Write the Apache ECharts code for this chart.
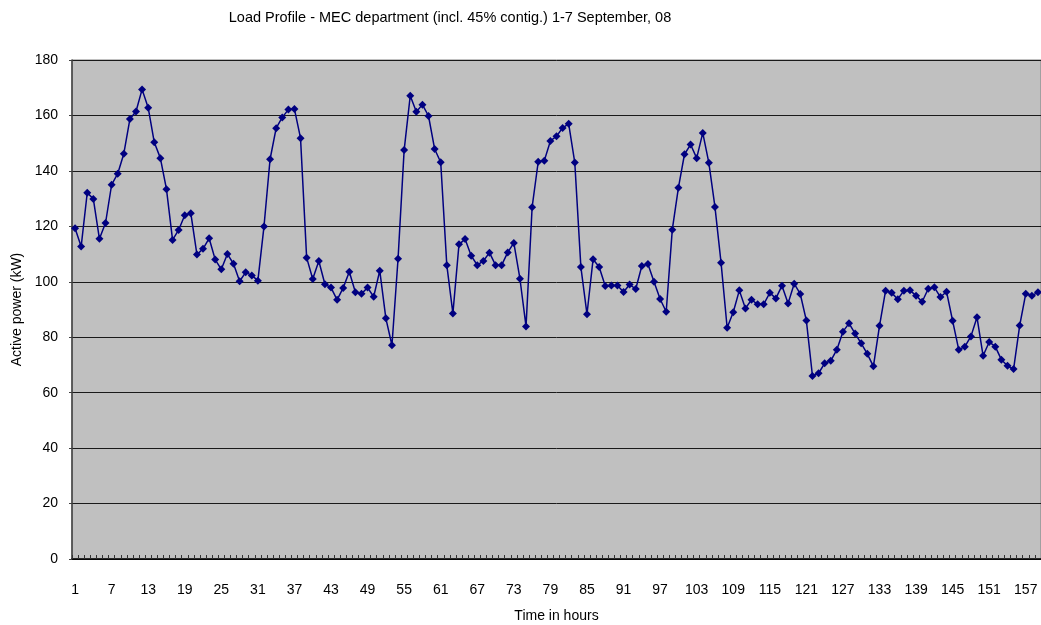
<!DOCTYPE html>
<html>
<head>
<meta charset="utf-8">
<script src="https://cdn.jsdelivr.net/npm/echarts@6/dist/echarts.min.js"></script>
<style>
html,body{margin:0;padding:0;background:#fff;}
#chart{width:1041px;height:625px;}
</style>
</head>
<body>
<div id="chart"></div>
<script>
// Hours (categories) 1..159
const hours = [];
for (let i = 1; i <= 159; i++) hours.push(String(i));

// Active power (kW), hour by hour
const power = [
  119.3, 112.7, 132.1, 129.9, 115.5, 121.2, 135.0, 139.0, 146.2, 158.7,
  161.4, 169.4, 162.8, 150.3, 144.6, 133.4, 115.1, 118.7, 124.0, 124.7,
  109.8, 111.9, 115.7, 108.0, 104.5, 110.0, 106.5, 100.2, 103.4, 102.3,
  100.4, 119.9, 144.2, 155.4, 159.3, 162.1, 162.3, 151.8, 108.7, 101.0,
  107.5, 99.1, 97.9, 93.5, 97.8, 103.6, 96.2, 95.7, 97.9, 94.6,
  104.0, 86.8, 77.1, 108.3, 147.5, 167.1, 161.3, 163.9, 159.8, 147.9,
  143.1, 106.0, 88.6, 113.5, 115.4, 109.4, 106.0, 107.5, 110.5, 106.0,
  106.0, 110.6, 114.0, 101.1, 83.9, 126.9, 143.3, 143.7, 150.8, 152.5,
  155.5, 157.0, 143.0, 105.3, 88.3, 108.1, 105.3, 98.5, 98.7, 98.7,
  96.3, 99.0, 97.4, 105.7, 106.4, 100.0, 93.8, 89.2, 118.8, 133.9,
  146.0, 149.5, 144.6, 153.7, 142.9, 127.0, 106.9, 83.4, 89.0, 96.9,
  90.4, 93.5, 91.9, 91.9, 96.0, 94.0, 98.6, 92.2, 99.3, 95.6,
  86.0, 66.0, 67.0, 70.6, 71.5, 75.5, 82.0, 85.0, 81.3, 77.8,
  74.0, 69.5, 84.1, 96.8, 96.0, 93.7, 96.8, 96.9, 95.0, 92.8,
  97.5, 98.0, 94.5, 96.4, 85.9, 75.5, 76.6, 80.3, 87.2, 73.3,
  78.3, 76.6, 71.9, 69.7, 68.5, 84.2, 95.7, 95.0, 96.2
];

const titleText = 'Load Profile - MEC department (incl. 45% contig.) 1-7 September, 08';
const yName = 'Active power (kW)';
const xName = 'Time in hours';

const FONT = "'Liberation Sans', Arial, sans-serif";
const chart = echarts.init(document.getElementById('chart'), null, {renderer: 'canvas'});
chart.setOption({
  animation: false,
  backgroundColor: '#ffffff',
  title: {
    text: titleText,
    left: 445,
    top: 5,
    textAlign: 'center',
    textStyle: {fontFamily: FONT, fontSize: 14.5, fontWeight: 'normal', color: '#000'}
  },
  grid: {
    left: 72, right: 0, top: 60, bottom: 66,
    containLabel: false,
    outerBoundsMode: 'none',
    show: true,
    backgroundColor: '#c0c0c0',
    borderColor: '#808080',
    borderWidth: 1
  },
  xAxis: {
    type: 'category',
    data: hours,
    boundaryGap: true,
    name: xName,
    nameLocation: 'middle',
    nameGap: 50,
    nameTextStyle: {fontFamily: FONT, fontSize: 14, color: '#000'},
    axisLine: {show: true, lineStyle: {color: '#000', width: 1.5}},
    axisTick: {show: true, inside: true, interval: 0, length: 4, lineStyle: {color: '#333', width: 1}},
    axisLabel: {interval: 5, margin: 24, fontFamily: FONT, fontSize: 14, color: '#000'},
    splitLine: {show: false}
  },
  yAxis: {
    type: 'value',
    min: 0, max: 180, interval: 20,
    name: yName,
    nameLocation: 'middle',
    nameRotate: 90,
    nameGap: 45,
    nameTextStyle: {fontFamily: FONT, fontSize: 14, color: '#000'},
    axisLine: {show: true, lineStyle: {color: '#404040', width: 1.5}},
    axisTick: {show: true, length: 3, lineStyle: {color: '#404040'}},
    axisLabel: {margin: 14, fontFamily: FONT, fontSize: 14, color: '#000'},
    splitLine: {show: true, lineStyle: {color: '#1a1a1a', width: 1}}
  },
  series: [{
    type: 'line',
    data: power,
    symbol: 'diamond',
    symbolSize: 8,
    showAllSymbol: true,
    lineStyle: {color: '#000080', width: 1.5},
    itemStyle: {color: '#000080'}
  }]
});
</script>
</body>
</html>
